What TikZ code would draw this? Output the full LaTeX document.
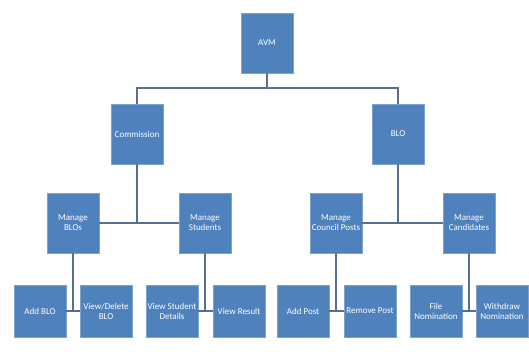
\documentclass[tikz,border=0pt]{standalone}
\usepackage{fontspec}
\setmainfont{Carlito}
\usepackage{tikz}
\usetikzlibrary{positioning}
\definecolor{avm_blue}{RGB}{79,129,189}
\definecolor{avm_edge}{RGB}{125,162,208}
\definecolor{avm_line}{RGB}{88,112,144}

\begin{document}
\begin{tikzpicture}[x=1pt,y=-1pt,font=\fontsize{9}{10}\selectfont,
          box/.style={draw=avm_edge, fill=avm_blue, text=white, line width=0.6pt,
                      minimum width=52pt, minimum height=60pt, inner sep=1pt, align=center},
          leaf/.style={box, minimum height=52pt},
          conn/.style={draw=avm_line, line width=2pt}]
        \useasboundingbox (0,0) rectangle (529,354);
        % levels
        \node[box]  (avm)        at (267,43)   {AVM};
        \node[box]  (commission) at (137,134)  {Commission};
        \node[box]  (blo)        at (398,134)  {BLO};
        \node[box]  (mblo)       at (73,223)   {Manage\\BLOs};
        \node[box]  (mstu)       at (205,223)  {Manage\\Students};
        \node[box]  (mpost)      at (336,223)  {Manage\\Council Posts};
        \node[box]  (mcand)      at (469,223)  {Manage\\Candidates};
        % leaves
        \node[leaf] (addblo)     at (40,311)   {Add BLO};
        \node[leaf] (viewblo)    at (106,311)  {View/Delete\\BLO};
        \node[leaf] (viewstu)    at (172,311)  {View Student\\Details};
        \node[leaf] (viewres)    at (239,311)  {View Result};
        \node[leaf] (addpost)    at (303,311)  {Add Post};
        \node[leaf] (rempost)    at (370,311)  {Remove Post};
        \node[leaf] (filenom)    at (436,311)  {File\\Nomination};
        \node[leaf] (withnom)    at (502,311)  {Withdraw\\Nomination};
        % connectors
        \coordinate (bus) at (267,88);
        \draw[conn] (avm.south) -- (bus);
        \draw[conn] (commission.north) |- (bus) -| (blo.north);
        \draw[conn] (mblo.east) -- (mstu.west);
        \draw[conn] (commission.south) -- (commission.south |- mblo.east);
        \draw[conn] (mpost.east) -- (mcand.west);
        \draw[conn] (blo.south) -- (blo.south |- mpost.east);
        \draw[conn] (addblo.east) -- (viewblo.west);
        \draw[conn] (mblo.south) -- (mblo.south |- addblo.east);
        \draw[conn] (viewstu.east) -- (viewres.west);
        \draw[conn] (mstu.south) -- (mstu.south |- viewstu.east);
        \draw[conn] (addpost.east) -- (rempost.west);
        \draw[conn] (mpost.south) -- (mpost.south |- addpost.east);
        \draw[conn] (filenom.east) -- (withnom.west);
        \draw[conn] (mcand.south) -- (mcand.south |- filenom.east);
      \end{tikzpicture}
\end{document}
